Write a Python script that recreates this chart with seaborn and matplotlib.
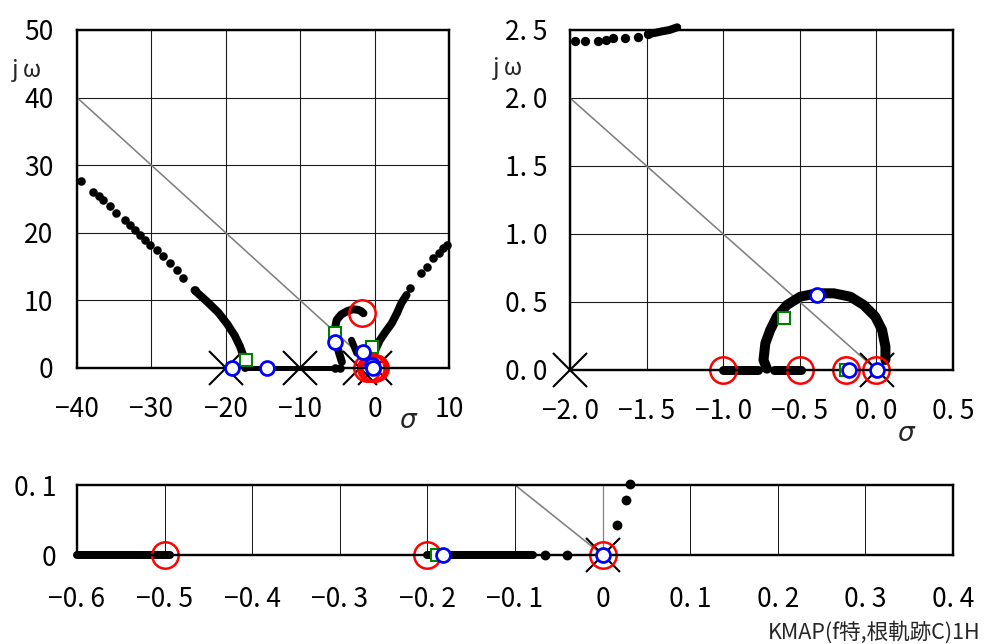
import numpy as np
import pandas as pd
import matplotlib
matplotlib.use("Agg")
import matplotlib.pyplot as plt
import seaborn as sns

sns.set_theme(style="white")
plt.rcParams["font.family"] = ["Noto Sans CJK JP", "DejaVu Sans"]
plt.rcParams["axes.unicode_minus"] = True

# ---------------- top-left panel (wide view) ----------------
tl_dots_x = [-39.4, -37.8, -37.1, -36.5, -35.6, -34.7, -33.6, -32.9, -32.2, -31.5,
             -30.9, -30.2, -29.3, -28.4, -27.5, -26.6, -25.7, -24.2,
             4.8, 6.3, 7.0, 7.9, 8.6, 9.2, 9.7, -5.3, -4.65]
tl_dots_y = [27.7, 26.1, 25.4, 24.9, 23.9, 22.9, 21.9, 21.2, 20.4, 19.7,
             18.9, 18.2, 17.5, 16.5, 15.5, 14.5, 13.3, 11.5,
             11.8, 14.0, 15.0, 16.2, 17.0, 17.7, 18.2, 0.0, 0.0]
# dense (overlapping dots) segments
tl_b1_x = [-24.2, -22.5, -21.0, -19.8, -18.8, -18.1, -17.7, -17.4, -17.4]
tl_b1_y = [11.5, 9.8, 8.2, 6.5, 4.8, 3.2, 2.0, 1.0, 0.0]
tl_real_x = [-17.4, -5.6]
tl_real_y = [0.0, 0.0]
tl_hook_x = [-4.4, -4.9, -5.3, -5.3, -5.1, -4.5, -3.7, -2.9, -2.2, -1.8, -1.5]
tl_hook_y = [0.9, 2.7, 4.6, 6.0, 7.1, 7.9, 8.4, 8.7, 8.6, 8.4, 8.1]
tl_right_x = [-0.4, 0.2, 0.7, 1.5, 2.3, 3.0, 3.6, 4.3]
tl_right_y = [1.4, 2.9, 4.1, 5.4, 6.6, 8.1, 9.6, 10.8]
tl_mid_x = [-3.1, -2.4, -1.9, -1.3]
tl_mid_y = [4.1, 2.2, 2.4, 2.5]
tl_poles_x = [-20, -10, -2, 0]
tl_poles_y = [0, 0, 0, 0]
tl_zeros_x = [-1.7, -1.0, -0.5, -0.2, 0.0]
tl_zeros_y = [8.1, 0, 0, 0, 0]
tl_sq_x = [-17.3, -5.3, -0.4]
tl_sq_y = [1.2, 5.2, 3.15]
tl_blue_x = [-19.2, -14.5, -5.3, -1.5, -0.4, -0.15]
tl_blue_y = [0.0, 0.0, 3.9, 2.4, 0.45, 0.0]

# ---------------- top-right panel ----------------
tr_dots_x = [-1.967, -1.90, -1.82, -1.765, -1.72, -1.64, -1.556, -1.49]
tr_dots_y = [2.42, 2.42, 2.42, 2.43, 2.44, 2.44, 2.45, 2.47]
tr_top_x = [-1.49, -1.44, -1.40, -1.35, -1.30]
tr_top_y = [2.47, 2.48, 2.49, 2.50, 2.52]
tr_arc_x = [-0.715, -0.737, -0.725, -0.693, -0.65, -0.584, -0.497, -0.388, -0.279,
            -0.17, -0.083, -0.007, 0.037, 0.059, 0.059]
tr_arc_y = [0.01, 0.074, 0.196, 0.294, 0.392, 0.478, 0.539, 0.564, 0.564,
            0.539, 0.478, 0.392, 0.294, 0.171, 0.074]
tr_real1_x = [-1.0, -0.77]
tr_real2_x = [-0.67, -0.49]
tr_poles_x = [-2.0, 0.006]
tr_zeros_x = [-1.0, -0.5, -0.2, 0.0]
tr_sq_x = [-0.6, -0.2]
tr_sq_y = [0.38, 0.0]
tr_blue_x = [-0.39, -0.176, 0.006]
tr_blue_y = [0.55, 0.0, 0.0]

# ---------------- bottom panel (zoom near origin) ----------------
bt_real1_x = [-0.6, -0.494]
bt_real2_x = [-0.2, -0.079]
bt_dots_x = [-0.066, -0.041, 0.017, 0.027, 0.031]
bt_dots_y = [0.0, 0.0, 0.043, 0.079, 0.102]
bt_poles_x = [0.0]
bt_zeros_x = [-0.5, -0.2, 0.0]
bt_sq_x = [-0.189]
bt_blue_x = [-0.182, 0.0]

PX = 0.72  # points per pixel at dpi 100
GRAY = "#808080"


def frame(ax, xlim, ylim, xt, xl, yt, yl, xpad, ypad):
    ax.set_xlim(*xlim)
    ax.set_ylim(*ylim)
    ax.set_xticks(xt)
    ax.set_xticklabels(xl)
    ax.set_yticks(yt)
    ax.set_yticklabels(yl)
    ax.tick_params(axis="x", length=0, pad=xpad, labelsize=19, colors="black")
    ax.tick_params(axis="y", length=0, pad=ypad, labelsize=19, colors="black")
    for sp in ax.spines.values():
        sp.set_color("black")
        sp.set_linewidth(2.4 * PX)
        sp.set_zorder(6)
    ax.grid(True, color="#1a1a1a", linewidth=1.1 * PX)
    ax.set_axisbelow(True)
    ax.set_facecolor("white")


def dense(ax, x, y, w):
    ax.plot(x, y, color="black", linewidth=w * PX, solid_capstyle="round",
            solid_joinstyle="round", zorder=3, clip_on=False)


def marks(ax, px, py, zx, zy, sx, sy, bx, by):
    ax.plot(px, py, linestyle="none", marker="x", markersize=24, mew=1.5,
            color="black", zorder=4, clip_on=False)
    ax.plot(zx, zy, linestyle="none", marker="o", markersize=19, mew=1.8,
            markerfacecolor="none", markeredgecolor="red", zorder=5, clip_on=False)
    ax.plot(sx, sy, linestyle="none", marker="s", markersize=8, mew=1.5,
            markerfacecolor="white", markeredgecolor="green", zorder=7, clip_on=False)
    ax.plot(bx, by, linestyle="none", marker="o", markersize=10, mew=2.0,
            markerfacecolor="white", markeredgecolor="blue", zorder=8, clip_on=False)


fig = plt.figure(figsize=(9.84, 6.44), dpi=100)
ax1 = fig.add_axes([77 / 984, 1 - 368 / 644, 372 / 984, 338 / 644])
ax2 = fig.add_axes([570 / 984, 1 - 370 / 644, 383 / 984, 340 / 644])
ax3 = fig.add_axes([77 / 984, 1 - 555 / 644, 876 / 984, 70 / 644])

sigma_font = dict(family="DejaVu Sans", style="italic", fontsize=19)

# top-left
frame(ax1, (-40, 10), (0, 50), [-40, -30, -20, -10, 0, 10],
      ["−40", "−30", "−20", "−10", "0", "10"],
      [0, 10, 20, 30, 40, 50], ["0", "10", "20", "30", "40", "50"], 20, 17)
ax1.plot([-40, 0], [40, 0], color=GRAY, linewidth=1.6 * PX, zorder=2)
dense(ax1, tl_b1_x, tl_b1_y, 8)
dense(ax1, tl_real_x, tl_real_y, 5)
dense(ax1, tl_hook_x, tl_hook_y, 8)
dense(ax1, tl_right_x, tl_right_y, 8)
dense(ax1, tl_mid_x, tl_mid_y, 7)
dots1 = pd.DataFrame({"x": tl_dots_x, "y": tl_dots_y})
sns.scatterplot(data=dots1, x="x", y="y", ax=ax1, color="black", s=38,
                linewidth=0, zorder=3, clip_on=False, legend=False)
marks(ax1, tl_poles_x, tl_poles_y, tl_zeros_x, tl_zeros_y, tl_sq_x, tl_sq_y,
      tl_blue_x, tl_blue_y)
ax1.set_xlabel("")
ax1.set_ylabel("")
fig.text(27 / 984, 1 - 70 / 644, "j ω", fontsize=17, ha="center", va="center")
fig.text(408 / 984, 1 - 421 / 644, "σ", ha="center", va="center", **sigma_font)

# top-right
frame(ax2, (-2, 0.5), (0, 2.5), [-2, -1.5, -1, -0.5, 0, 0.5],
      ["−2. 0", "−1. 5", "−1. 0", "−0. 5", "0. 0", "0. 5"],
      [0, 0.5, 1, 1.5, 2, 2.5], ["0. 0", "0. 5", "1. 0", "1. 5", "2. 0", "2. 5"],
      20, 16)
ax2.plot([-2, 0], [2, 0], color=GRAY, linewidth=1.6 * PX, zorder=2)
dense(ax2, tr_top_x, tr_top_y, 8)
dense(ax2, tr_arc_x, tr_arc_y, 10)
dense(ax2, tr_real1_x, [0, 0], 9)
dense(ax2, tr_real2_x, [0, 0], 9)
dots2 = pd.DataFrame({"x": tr_dots_x, "y": tr_dots_y})
sns.scatterplot(data=dots2, x="x", y="y", ax=ax2, color="black", s=45,
                linewidth=0, zorder=3, clip_on=False, legend=False)
marks(ax2, tr_poles_x, [0] * len(tr_poles_x), tr_zeros_x, [0] * len(tr_zeros_x),
      tr_sq_x, tr_sq_y, tr_blue_x, tr_blue_y)
ax2.set_xlabel("")
ax2.set_ylabel("")
fig.text(508 / 984, 1 - 68 / 644, "j ω", fontsize=17, ha="center", va="center")
fig.text(906 / 984, 1 - 434 / 644, "σ", ha="center", va="center", **sigma_font)

# bottom
frame(ax3, (-0.6, 0.4), (0, 0.1), np.round(np.arange(-0.6, 0.41, 0.1), 1),
      ["−0. 6", "−0. 5", "−0. 4", "−0. 3", "−0. 2", "−0. 1", "0", "0. 1", "0. 2",
       "0. 3", "0. 4"],
      [0, 0.1], ["0", "0. 1"], 22, 15)
ax3.set_xticks(np.arange(-0.55, 0.4, 0.1), minor=True)
ax3.set_yticks([0.05], minor=True)
ax3.tick_params(which="minor", direction="in", length=4, width=1.2 * PX,
                color="black")
ax3.xaxis.grid(True, which="major", color="#1a1a1a", linewidth=1.0 * PX)
ax3.yaxis.grid(False)
ax3.axvline(0, color=GRAY, linewidth=1.2 * PX, zorder=1)
ax3.plot([-0.1, 0], [0.1, 0], color=GRAY, linewidth=1.6 * PX, zorder=2)
dense(ax3, bt_real1_x, [0, 0], 8)
dense(ax3, bt_real2_x, [0, 0], 8)
dots3 = pd.DataFrame({"x": bt_dots_x, "y": bt_dots_y})
sns.scatterplot(data=dots3, x="x", y="y", ax=ax3, color="black", s=50,
                linewidth=0, zorder=3, clip_on=False, legend=False)
marks(ax3, bt_poles_x, [0], bt_zeros_x, [0] * len(bt_zeros_x), bt_sq_x, [0],
      bt_blue_x, [0] * len(bt_blue_x))
ax3.set_xlabel("")
ax3.set_ylabel("")

fig.text(980 / 984, 1 - 632 / 644, "KMAP(f特,根軌跡C)1H", fontsize=15.5,
         ha="right", va="center")

fig.savefig("out.png", dpi=100)
